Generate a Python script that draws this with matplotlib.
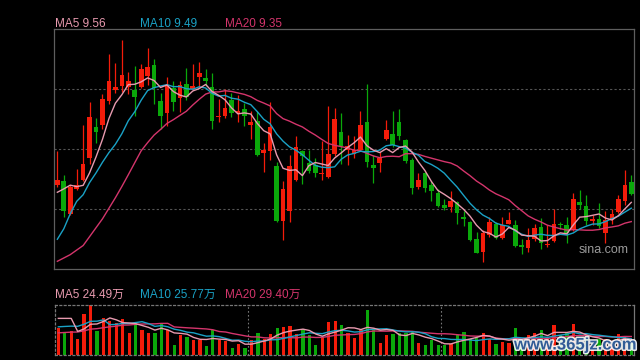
import numpy as np
import pandas as pd
import matplotlib

matplotlib.use("Agg")
import matplotlib.pyplot as plt
from matplotlib import patheffects

plt.rcParams["font.family"] = ["Liberation Sans", "Noto Sans CJK SC", "DejaVu Sans"]

# ---- 日K数据 (90 根) ----
open_ = [9.74, 9.78, 9.43, 9.70, 9.80, 10.03, 10.36, 10.38, 10.64, 10.76,
         10.80, 10.79, 10.76, 10.79, 10.91, 11.02, 10.64, 10.51, 10.78, 10.67,
         10.82, 10.77, 10.90, 10.89, 10.79, 10.47, 10.48, 10.65, 10.51, 10.55,
         10.38, 10.43, 10.08, 10.10, 9.95, 9.36, 9.46, 9.80, 10.10, 9.98,
         9.96, 9.86, 9.83, 10.07, 10.31, 10.12, 10.07, 10.12, 10.42, 9.96,
         9.98, 10.23, 10.29, 10.42, 10.22, 10.01, 9.72, 9.87, 9.74, 9.66,
         9.53, 9.51, 9.56, 9.40, 9.35, 9.16, 9.03, 9.21, 9.33, 9.18,
         9.33, 9.31, 9.10, 9.07, 9.16, 9.29, 9.10, 9.14, 9.32, 9.31,
         9.26, 9.56, 9.52, 9.36, 9.38, 9.23, 9.38, 9.45, 9.57, 9.77]
high = [10.10, 9.85, 9.74, 9.91, 10.38, 10.63, 10.46, 10.71, 11.14, 11.04,
        11.29, 10.95, 11.01, 11.03, 11.21, 11.09, 10.73, 10.90, 10.85, 10.85,
        10.99, 11.03, 11.06, 10.98, 10.94, 10.66, 10.77, 10.72, 10.70, 10.62,
        10.53, 10.53, 10.19, 10.63, 9.99, 9.78, 10.06, 10.27, 10.12, 10.12,
        10.03, 10.21, 10.59, 10.56, 10.51, 10.28, 10.27, 10.53, 10.82, 10.06,
        10.09, 10.44, 10.53, 10.55, 10.23, 10.03, 9.87, 9.88, 9.78, 9.70,
        9.59, 9.68, 9.57, 9.46, 9.36, 9.24, 9.26, 9.40, 9.35, 9.40,
        9.45, 9.37, 9.17, 9.28, 9.33, 9.39, 9.31, 9.48, 9.35, 9.40,
        9.66, 9.69, 9.63, 9.42, 9.55, 9.46, 9.48, 9.63, 9.90, 9.85]
low = [9.72, 9.40, 9.42, 9.69, 9.78, 9.97, 10.19, 10.34, 10.61, 10.73,
       10.74, 10.71, 10.48, 10.78, 10.81, 10.61, 10.34, 10.37, 10.53, 10.52,
       10.65, 10.76, 10.79, 10.80, 10.34, 10.42, 10.46, 10.47, 10.42, 10.37,
       10.23, 10.05, 9.88, 10.01, 9.35, 9.15, 9.35, 9.78, 9.75, 9.87,
       9.83, 9.80, 9.82, 10.05, 9.97, 9.96, 10.03, 10.11, 9.93, 9.76,
       9.88, 10.22, 10.15, 10.22, 9.98, 9.65, 9.70, 9.67, 9.57, 9.51,
       9.47, 9.45, 9.33, 9.30, 9.14, 9.01, 8.92, 9.19, 9.16, 9.17,
       9.32, 9.08, 9.00, 9.03, 9.14, 9.06, 9.08, 9.13, 9.27, 9.12,
       9.25, 9.49, 9.31, 9.31, 9.28, 9.12, 9.33, 9.44, 9.53, 9.64]
close = [9.80, 9.46, 9.72, 9.74, 9.97, 10.47, 10.31, 10.66, 10.85, 10.79,
         10.92, 10.85, 10.68, 10.98, 11.00, 10.78, 10.48, 10.81, 10.63, 10.81,
         10.68, 10.80, 10.94, 10.85, 10.43, 10.48, 10.56, 10.51, 10.53, 10.48,
         10.42, 10.06, 10.12, 10.36, 9.36, 9.70, 9.95, 10.15, 10.05, 9.89,
         9.87, 9.87, 10.07, 10.45, 10.16, 10.16, 10.12, 10.38, 9.99, 9.92,
         10.03, 10.33, 10.17, 10.26, 10.00, 9.71, 9.80, 9.71, 9.68, 9.52,
         9.50, 9.57, 9.44, 9.38, 9.15, 9.02, 9.23, 9.35, 9.18, 9.31,
         9.37, 9.09, 9.08, 9.15, 9.28, 9.12, 9.11, 9.33, 9.31, 9.23,
         9.59, 9.53, 9.36, 9.38, 9.30, 9.37, 9.43, 9.59, 9.74, 9.65]
# 成交量 (万手)
volume = [42.2, 35.8, 37.9, 26.2, 65.1, 79.5, 37.9, 58.2, 53.9, 50.2,
          57.1, 35.2, 52.8, 39.5, 35.2, 35.2, 50.2, 39.5, 15.5, 31.5,
          28.8, 24.6, 24.6, 13.9, 39.5, 23.5, 21.9, 11.8, 17.1, 11.8,
          23.5, 34.2, 25.1, 33.1, 42.2, 43.8, 45.9, 33.1, 40.6, 31.5,
          15.5, 28.8, 52.3, 53.9, 47.5, 34.2, 27.2, 39.5, 71.5, 40.6,
          19.2, 31.5, 33.1, 35.2, 35.2, 36.8, 19.2, 15.5, 23.5, 15.5,
          15.5, 18.2, 31.5, 36.3, 26.2, 27.8, 34.2, 26.2, 17.1, 20.8,
          19.2, 42.7, 21.9, 32.0, 35.2, 39.5, 25.6, 47.5, 32.0, 34.7,
          48.6, 19.2, 25.6, 16.25, 25.6, 25.6, 16.0, 33.1, 28.8, 18.95]

# 窗口前 19 个交易日 (均线用, 不画)
prev_close = [8.75, 9.01, 8.76, 9.00, 8.57, 8.40, 8.76, 8.60, 8.54, 8.52,
              8.34, 8.11, 8.42, 9.26, 9.17, 9.28, 9.52, 9.82, 9.90]
prev_volume = [24, 27, 22, 28, 25, 23, 27, 26, 29, 25,
               30, 33, 29, 32, 33, 35.8, 37.9, 129.6, 45.6]

month_start = [30, 60]

RED, GREEN = "#f41c0a", "#0aa80a"
C5, C10, C20 = "#e89aaf", "#1aa2c6", "#d4356c"
FRAME, GRID = "#5e5e5e", "#555555"

n = len(close)
x = np.arange(n)
o, h, l, c = map(np.array, (open_, high, low, close))
up = c >= o
col = np.where(up, RED, GREEN)

cs = pd.Series(prev_close + close)
vs = pd.Series(prev_volume + volume)
k = len(prev_close)
ma = {w: cs.rolling(w).mean().to_numpy()[k:] for w in (5, 10, 20)}
vma = {w: vs.rolling(w).mean().to_numpy()[k:] for w in (5, 10, 20)}

fig = plt.figure(figsize=(6.4, 3.6), dpi=100, facecolor="black")

# ---------- K线 ----------
ax = fig.add_axes([54 / 640, 91 / 360, 580 / 640, 240 / 360], facecolor="black")
ax.vlines(x, l, h, colors=col, lw=0.9, zorder=2)
body = np.maximum(np.abs(c - o), 0.008)
ax.bar(x, body, bottom=np.minimum(o, c), width=0.72, color=col, lw=0, zorder=3)
for w, cc in ((20, C20), (10, C10), (5, C5)):
    ax.plot(x, ma[w], color=cc, lw=1.0, zorder=4)
rng = h.max() - l.min()
lo, hi = l.min() - 0.032 * rng, h.max() + 0.05 * rng
ax.set_ylim(lo, hi)
ax.set_xlim(-0.52, n - 0.58)
for f in (0.25, 0.5, 0.75):
    ax.axhline(lo + f * (hi - lo), color=GRID, lw=0.8, ls=(0, (2, 2)), zorder=1)
ax.set_xticks([]); ax.set_yticks([])
for s in ax.spines.values():
    s.set_color(FRAME); s.set_linewidth(0.9)
ax.text(0.99, 0.08, "sina.com", transform=ax.transAxes, ha="right", va="center",
        color="#9a9a9a", fontsize=9)

# ---------- 成交量 ----------
axv = fig.add_axes([55 / 640, 5 / 360, 579 / 640, 50 / 360], facecolor="black")
axv.bar(x, volume, width=0.5, color=col, lw=0, zorder=2)
for w, cc in ((20, C20), (10, C10), (5, C5)):
    axv.plot(x, vma[w], color=cc, lw=1.0, zorder=3)
axv.set_xlim(-0.52, n - 0.58)
axv.set_ylim(0, max(volume))
for m in month_start:
    axv.axvline(m - 0.5, color="#777777", lw=0.8, ls=(0, (1.5, 2)), zorder=1)
axv.set_xticks([]); axv.set_yticks([])
for side, s in axv.spines.items():
    s.set_color("#777777"); s.set_linewidth(0.9)
    if side != "right":
        s.set_linestyle((0, (1.5, 2)))

# ---------- 图例文字 ----------
for xp, w, cc in ((55, 5, C5), (140, 10, C10), (225, 20, C20)):
    fig.text(xp / 640, 1 - 24 / 360, f"MA{w} {ma[w][-1]:.2f}", color=cc,
             fontsize=8.5, va="center", ha="left")
    fig.text(xp / 640, 1 - 295 / 360, f"MA{w} {vma[w][-1]:.2f}万", color=cc,
             fontsize=8.5, va="center", ha="left")

fig.text(575 / 640, 1 - 345 / 360, "www.365jz.com", color="#1d4c8c", fontsize=12,
         fontweight="bold", ha="center", va="center", alpha=0.9,
         path_effects=[patheffects.withStroke(linewidth=2.2, foreground="white")])

fig.savefig("out.png", dpi=100, facecolor="black")
